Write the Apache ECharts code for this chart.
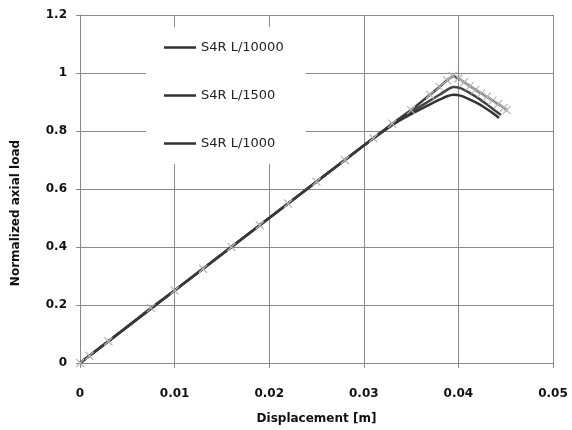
<!DOCTYPE html>
<html><head><meta charset="utf-8">
<script src="https://cdn.jsdelivr.net/npm/echarts@6/dist/echarts.min.js"></script>
<style>html,body{margin:0;padding:0;background:#fff}#c{width:572px;height:430px}</style>
</head><body><div id="c"></div>
<script>
const seriesNames = ['S4R L/10000', 'S4R L/1500', 'S4R L/1000'];
const xTicks = [0, 0.01, 0.02, 0.03, 0.04, 0.05];
const yTicks = [0, 0.2, 0.4, 0.6, 0.8, 1, 1.2];

const dispA = [0, 0.001, 0.003, 0.0075, 0.01, 0.013, 0.016, 0.019, 0.022, 0.025, 0.028, 0.031, 0.033, 0.035, 0.037, 0.038, 0.0388, 0.0394, 0.040, 0.0406, 0.0412, 0.0418, 0.0424, 0.043, 0.0436, 0.0442, 0.0448, 0.0451];
const loadA = [0, 0.025, 0.075, 0.19, 0.25, 0.325, 0.4, 0.475, 0.55, 0.625, 0.7, 0.775, 0.825, 0.872, 0.925, 0.952, 0.975, 0.99, 0.982, 0.968, 0.955, 0.942, 0.93, 0.918, 0.905, 0.893, 0.88, 0.872];

const dispB = [0, 0.01, 0.02, 0.03, 0.033, 0.035, 0.037, 0.038, 0.0388, 0.0395, 0.0402, 0.041, 0.042, 0.043, 0.0438, 0.0445];
const loadB = [0, 0.25, 0.5, 0.75, 0.822, 0.865, 0.905, 0.925, 0.942, 0.952, 0.948, 0.935, 0.915, 0.892, 0.872, 0.855];

const dispC = [0, 0.01, 0.02, 0.03, 0.033, 0.035, 0.037, 0.038, 0.0388, 0.0395, 0.0402, 0.041, 0.042, 0.043, 0.0438, 0.0443];
const loadC = [0, 0.25, 0.5, 0.75, 0.82, 0.858, 0.892, 0.908, 0.92, 0.925, 0.922, 0.912, 0.896, 0.876, 0.858, 0.845];

const zip = (xs, ys) => xs.map((x, i) => [x, ys[i]]);
const crossPath = 'path://M0,0L10,10M10,0L0,10';

const chart = echarts.init(document.getElementById('c'));
const font = '"DejaVu Sans", sans-serif';
chart.setOption({
  backgroundColor: '#fff',
  animation: false,
  grid: { left: 80, right: 19, top: 15, bottom: 67 },
  legend: {
    orient: 'vertical',
    left: 146, top: 27,
    padding: [14, 22, 14, 18],
    backgroundColor: '#fff',
    itemWidth: 32, itemHeight: 14, itemGap: 35,
    textStyle: { fontFamily: font, fontSize: 13, color: '#222' },
    data: seriesNames.map(n => ({ name: n, icon: 'path://M0,6L32,6L32,8.5L0,8.5Z',
      itemStyle: { color: '#333', borderWidth: 0 } }))
  },
  xAxis: {
    type: 'value', min: 0, max: 0.05, interval: 0.01,
    name: 'Displacement [m]', nameLocation: 'middle', nameGap: 50,
    nameTextStyle: { fontFamily: font, fontSize: 12, fontWeight: 'bold', color: '#111' },
    axisLine: { show: true, lineStyle: { color: '#888' } },
    axisTick: { show: true, length: 5, lineStyle: { color: '#888' } },
    axisLabel: { fontFamily: font, fontSize: 12, fontWeight: 'bold', color: '#111', margin: 25,
      formatter: v => { const s = xTicks.find(t => Math.abs(t - v) < 1e-9); return s === undefined ? '' : String(s); } },
    splitLine: { show: true, lineStyle: { color: '#8a8a8a', width: 1 } }
  },
  yAxis: {
    type: 'value', min: 0, max: 1.2, interval: 0.2,
    name: 'Normalized axial load', nameLocation: 'middle', nameGap: 58,
    nameTextStyle: { fontFamily: font, fontSize: 12, fontWeight: 'bold', color: '#111', padding: [0, 48, 0, 0] },
    axisLine: { show: true, lineStyle: { color: '#888' } },
    axisTick: { show: true, length: 4, lineStyle: { color: '#888' } },
    axisLabel: { fontFamily: font, fontSize: 12, fontWeight: 'bold', color: '#111', margin: 13,
      formatter: v => { const s = yTicks.find(t => Math.abs(t - v) < 1e-9); return s === undefined ? '' : String(s); } },
    splitLine: { show: true, lineStyle: { color: '#8a8a8a', width: 1 } }
  },
  series: [
    { name: seriesNames[0], type: 'line', data: zip(dispA, loadA), z: 3,
      lineStyle: { color: '#3a3a3a', width: 2.5 },
      symbol: crossPath, symbolSize: 8, showAllSymbol: true,
      itemStyle: { color: 'rgba(0,0,0,0)', borderColor: '#b8b8b8', borderWidth: 1.2 } },
    { name: seriesNames[1], type: 'line', data: zip(dispB, loadB), z: 2, smooth: 0.3,
      lineStyle: { color: '#444', width: 2.5 }, symbol: 'none', itemStyle: { color: '#333' } },
    { name: seriesNames[2], type: 'line', data: zip(dispC, loadC), z: 2, smooth: 0.3,
      lineStyle: { color: '#333', width: 2.5 }, symbol: 'none', itemStyle: { color: '#333' } }
  ]
});
</script></body></html>
